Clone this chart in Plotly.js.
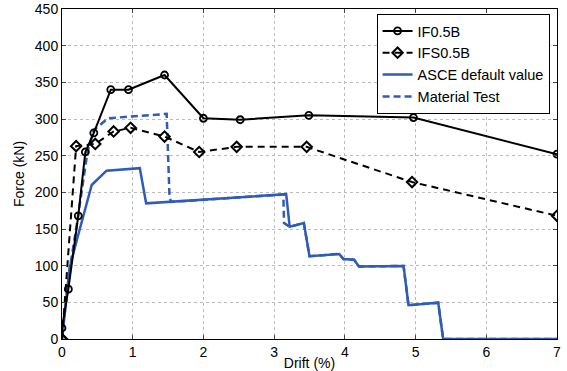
<!DOCTYPE html>
<html>
<head>
<script src="https://cdn.plot.ly/plotly-3.0.1.min.js"></script>
<style>html,body{margin:0;padding:0;background:#fff;}#chart{width:567px;height:371px;}</style>
</head>
<body>
<div id="chart"></div>
<script>
// IF0.5B (solid black, circles)
const ifDrift = [0, 0, 0.09, 0.23, 0.33, 0.45, 0.69, 0.94, 1.45, 2.0, 2.52, 3.49, 4.97, 7.0];
const ifForce = [0, 15, 68, 168, 255, 281, 340, 340, 360, 301, 299, 305, 302, 252];
// IFS0.5B (dashed black, diamonds)
const ifsDrift = [0, 0.2, 0.47, 0.73, 0.97, 1.45, 1.94, 2.47, 3.46, 4.95, 7.0];
const ifsForce = [0, 263, 266, 283, 288, 276, 255, 262, 262, 214, 168];
// ASCE default value (solid blue)
const asceDrift = [0, 0.11, 0.21, 0.42, 0.63, 1.10, 1.19, 3.17, 3.22, 3.42, 3.5, 3.92, 3.98, 4.13, 4.2, 4.83, 4.9, 5.32, 5.39, 7.0];
const asceForce = [0, 98, 135, 210, 229.5, 233, 185, 197.5, 153, 158, 113, 116, 109, 108, 99, 99.6, 46, 49.5, 0, 0];
// Material Test (dashed blue)
const matDrift = [0, 0.1, 0.2, 0.3, 0.36, 0.45, 0.65, 1.48, 1.52, 1.54, 3.13, 3.14, 3.22, 3.42, 3.5, 3.92, 3.98, 4.13, 4.2, 4.83, 4.9, 5.32, 5.39, 7.0];
const matForce = [0, 90, 150, 215, 255, 285, 301, 307, 195, 187, 197, 158, 153, 158, 113, 116, 109, 108, 99, 99.6, 46, 49.5, 0, 0];

const xTicks = [0, 1, 2, 3, 4, 5, 6, 7];
const yTicks = [0, 50, 100, 150, 200, 250, 300, 350, 400, 450];

const blue = '#2f5cb8';
const traces = [
  {x: matDrift, y: matForce, name: 'Material Test', mode: 'lines',
   line: {color: blue, width: 2.5, dash: '7px,4px'}, legendrank: 4},
  {x: asceDrift, y: asceForce, name: 'ASCE default value', mode: 'lines',
   line: {color: blue, width: 2.5}, legendrank: 3},
  {x: ifsDrift, y: ifsForce, name: 'IFS0.5B', mode: 'lines+markers',
   line: {color: 'black', width: 2, dash: '7px,5px'},
   marker: {symbol: 'diamond-open', size: 8, color: 'black', line: {width: 2, color: 'black'}}, legendrank: 2},
  {x: ifDrift, y: ifForce, name: 'IF0.5B', mode: 'lines+markers',
   line: {color: 'black', width: 2},
   marker: {symbol: 'circle-open', size: 7, color: 'black', line: {width: 1.8, color: 'black'}}, legendrank: 1}
];

const layout = {
  width: 567, height: 371,
  margin: {l: 62, r: 10, t: 9, b: 32},
  paper_bgcolor: '#fff', plot_bgcolor: '#fff',
  font: {family: 'Liberation Sans, Arial, sans-serif', size: 14, color: '#000'},
  showlegend: true,
  legend: {x: 0.985, y: 0.985, xanchor: 'right', yanchor: 'top', bordercolor: '#000', borderwidth: 1,
           bgcolor: '#fff', font: {size: 14.5}, tracegroupgap: 0, itemwidth: 30, traceorder: 'normal'},
  xaxis: {range: [0, 7], tickvals: xTicks, ticktext: xTicks.map(String), ticks: 'inside', ticklen: 4,
          showline: true, linecolor: '#000', linewidth: 1, mirror: 'ticks', zeroline: false,
          showgrid: true, gridcolor: '#bbb', griddash: 'dot', gridwidth: 1,
          title: {text: 'Drift (%)', font: {size: 14}, standoff: 1}, tickfont: {size: 14}},
  yaxis: {range: [0, 450], tickvals: yTicks, ticktext: yTicks.map(String), ticks: 'inside', ticklen: 4,
          showline: true, linecolor: '#000', linewidth: 1, mirror: 'ticks', zeroline: false,
          showgrid: true, gridcolor: '#bbb', griddash: 'dot', gridwidth: 1,
          title: {text: 'Force (kN)', font: {size: 14}, standoff: 6}, tickfont: {size: 14}}
};

Plotly.newPlot('chart', traces, layout, {displayModeBar: false, staticPlot: true});
</script>
</body>
</html>
